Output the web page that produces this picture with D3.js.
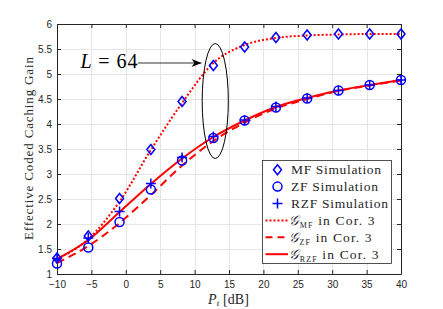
<!DOCTYPE html>
<html>
<head>
<meta charset="utf-8">
<script src="https://cdn.jsdelivr.net/npm/d3@7"></script>
<style>
  body { margin: 0; background: #fff; }
  svg { display: block; }
  .tick text { font-family: "Liberation Sans", Arial, sans-serif; font-size: 10px; fill: #262626; }
  .serif { font-family: "Liberation Serif", "DejaVu Serif", serif; fill: #262626; }
</style>
</head>
<body>
<div id="chart"></div>
<script>
// transmit power points (dB)
var pt = [-10, -5.45, -0.91, 3.64, 8.18, 12.73, 17.27, 21.82, 26.36, 30.91, 35.45, 40];

// simulation markers
var mfSim  = [1.32, 1.76, 2.51, 3.49, 4.45, 5.17, 5.54, 5.73, 5.78, 5.80, 5.80, 5.80];
var zfSim  = [1.21, 1.53, 2.04, 2.69, 3.27, 3.72, 4.07, 4.33, 4.51, 4.67, 4.78, 4.88];
var rzfSim = [1.31, 1.72, 2.25, 2.81, 3.33, 3.75, 4.08, 4.35, 4.52, 4.67, 4.78, 4.88];

// analytical curves (Cor. 3)
var mfCor  = [1.30, 1.70, 2.45, 3.48, 4.42, 5.22, 5.58, 5.72, 5.77, 5.79, 5.80, 5.80];
var zfCor  = [1.22, 1.56, 2.02, 2.58, 3.17, 3.66, 4.03, 4.31, 4.50, 4.66, 4.77, 4.87];
var rzfCor = [1.30, 1.68, 2.24, 2.80, 3.31, 3.74, 4.07, 4.34, 4.52, 4.67, 4.78, 4.88];

var xTicks = [-10, -5, 0, 5, 10, 15, 20, 25, 30, 35, 40];
var yTicks = [1, 1.5, 2, 2.5, 3, 3.5, 4, 4.5, 5, 5.5, 6];

var legendItems = [
  {kind: "diamond", sub: null,  label: "MF Simulation",  len: 90},
  {kind: "circle",  sub: null,  label: "ZF Simulation",  len: 87},
  {kind: "plus",    sub: null,  label: "RZF Simulation", len: 97},
  {kind: "dotted",  sub: "MF",  label: " in Cor. 3",     len: 86},
  {kind: "dashed",  sub: "ZF",  label: " in Cor. 3",     len: 83},
  {kind: "solid",   sub: "RZF", label: " in Cor. 3",     len: 90}
];

//Dimensions
var W = 443, H = 309;
var margin = {top: 24, right: 42, bottom: 35, left: 57};
var width = W - margin.left - margin.right,
    height = H - margin.top - margin.bottom;

var svg = d3.select("#chart").append("svg")
    .attr("width", W)
    .attr("height", H);

var g = svg.append("g")
    .attr("transform", "translate(" + margin.left + "," + margin.top + ")");

var x = d3.scaleLinear().domain([-10, 40]).range([0, width]);
var y = d3.scaleLinear().domain([1, 6]).range([height, 0]);

var blue = "#0000ff", red = "#ff0000";

//Grid
g.append("g").selectAll("line").data(xTicks.slice(1, -1)).enter().append("line")
    .attr("x1", function(d) { return Math.round(x(d)) + 0.5; })
    .attr("x2", function(d) { return Math.round(x(d)) + 0.5; })
    .attr("y1", 0).attr("y2", height)
    .attr("stroke", "#e6e6e6");
g.append("g").selectAll("line").data(yTicks.slice(1, -1)).enter().append("line")
    .attr("y1", function(d) { return Math.round(y(d)) + 0.5; })
    .attr("y2", function(d) { return Math.round(y(d)) + 0.5; })
    .attr("x1", 0).attr("x2", width)
    .attr("stroke", "#e6e6e6");

//Axes (ticks pointing inward, box on)
g.append("g").attr("transform", "translate(0," + height + ")")
    .call(d3.axisBottom(x).tickValues(xTicks).tickSizeInner(-4).tickSizeOuter(0).tickPadding(7));
g.append("g")
    .call(d3.axisLeft(y).tickValues(yTicks).tickFormat(d3.format("")).tickSizeInner(-4).tickSizeOuter(0).tickPadding(5));
g.append("g")
    .call(d3.axisTop(x).tickValues(xTicks).tickSizeInner(-4).tickSizeOuter(0).tickFormat(""));
g.append("g").attr("transform", "translate(" + width + ",0)")
    .call(d3.axisRight(y).tickValues(yTicks).tickSizeInner(-4).tickSizeOuter(0).tickFormat(""));
g.selectAll(".domain, .tick line").attr("stroke", "#262626");

//Curves
function drawCurve(vals, dash) {
  var line = d3.line()
      .x(function(d, i) { return x(pt[i]); })
      .y(function(d) { return y(d); })
      .curve(d3.curveMonotoneX);
  g.append("path").datum(vals)
      .attr("fill", "none")
      .attr("stroke", red)
      .attr("stroke-width", 2)
      .attr("stroke-dasharray", dash)
      .attr("d", line);
}
drawCurve(mfCor, "2,2");
drawCurve(zfCor, "8,5");
drawCurve(rzfCor, null);

//Markers
function marker(sel, kind, cx, cy) {
  if (kind === "diamond") {
    sel.append("path")
      .attr("d", "M" + cx + "," + (cy - 5) + "L" + (cx + 4) + "," + cy + "L" + cx + "," + (cy + 5) + "L" + (cx - 4) + "," + cy + "Z")
      .attr("fill", "none").attr("stroke", blue).attr("stroke-width", 1.5);
  } else if (kind === "circle") {
    sel.append("circle").attr("cx", cx).attr("cy", cy).attr("r", 4.5)
      .attr("fill", "none").attr("stroke", blue).attr("stroke-width", 1.5);
  } else if (kind === "plus") {
    sel.append("path")
      .attr("d", "M" + (cx - 5) + "," + cy + "H" + (cx + 5) + "M" + cx + "," + (cy - 5) + "V" + (cy + 5))
      .attr("fill", "none").attr("stroke", blue).attr("stroke-width", 1.5);
  }
}
pt.forEach(function(p, i) {
  marker(g, "diamond", x(p), y(mfSim[i]));
  marker(g, "circle", x(p), y(zfSim[i]));
  marker(g, "plus", x(p), y(rzfSim[i]));
});

//Annotation: ellipse + arrow + L = 64
g.append("ellipse")
    .attr("cx", x(13)).attr("cy", y(4.46))
    .attr("rx", x(14.9) - x(13)).attr("ry", y(4.46) - y(5.61))
    .attr("fill", "none").attr("stroke", "#000").attr("stroke-width", 1);

svg.append("defs").append("marker")
    .attr("id", "arrowhead")
    .attr("viewBox", "0 0 10 8")
    .attr("refX", 10).attr("refY", 4)
    .attr("markerWidth", 10).attr("markerHeight", 8)
    .attr("markerUnits", "userSpaceOnUse")
    .attr("orient", "auto")
  .append("path")
    .attr("d", "M0,0L10,4L0,8L3,4Z")
    .attr("fill", "#000");

g.append("line")
    .attr("x1", x(1.75)).attr("y1", y(5.22))
    .attr("x2", x(11.0)).attr("y2", y(5.22))
    .attr("stroke", "#000").attr("stroke-width", 0.8)
    .attr("marker-end", "url(#arrowhead)");

var lt = g.append("text").attr("class", "serif")
    .attr("x", x(-6.6)).attr("y", y(5.13))
    .attr("textLength", 57)
    .style("font-size", "20px").style("fill", "#000");
lt.append("tspan").style("font-style", "italic").text("L");
lt.append("tspan").text(" = 64");

//Axis labels
var xl = svg.append("text").attr("class", "serif")
    .attr("x", 208).attr("y", 303.5)
    .attr("textLength", 41)
    .style("font-size", "14px");
xl.append("tspan").style("font-style", "italic").text("P");
xl.append("tspan").style("font-style", "italic").style("font-size", "9px").attr("dy", 2.5).text("t");
xl.append("tspan").attr("dy", -2.5).text(" [dB]");

svg.append("text").attr("class", "serif")
    .attr("transform", "translate(33," + 148.5 + ") rotate(-90)")
    .attr("text-anchor", "middle")
    .attr("textLength", 183)
    .style("font-size", "13px")
    .text("Effective Coded Caching Gain");

//Legend
var lg = svg.append("g");
lg.append("rect")
    .attr("x", 262.5).attr("y", 160.5)
    .attr("width", 129).attr("height", 103)
    .attr("fill", "#fff").attr("stroke", "#262626").attr("stroke-width", 0.8);

legendItems.forEach(function(it, i) {
  var cy = 169.7 + i * 16.9;
  if (it.kind === "dotted" || it.kind === "dashed" || it.kind === "solid") {
    lg.append("line")
      .attr("x1", 265.5).attr("x2", 288).attr("y1", cy).attr("y2", cy)
      .attr("stroke", red).attr("stroke-width", 2)
      .attr("stroke-dasharray", it.kind === "dotted" ? "2,2" : it.kind === "dashed" ? "7,5" : null);
  } else {
    marker(lg, it.kind, 277.5, cy);
  }
  var t = lg.append("text").attr("class", "serif")
      .attr("x", it.sub ? 288.5 : 291).attr("y", cy + 4.5)
      .attr("textLength", it.len)
      .style("font-size", "13.5px");
  if (it.sub) {
    t.append("tspan").style("font-style", "italic").text("\ud835\udca2");
    t.append("tspan").style("font-size", "8px").attr("dy", 3).text(it.sub);
    t.append("tspan").attr("dy", -3).text(it.label);
  } else {
    t.text(it.label);
  }
});
</script>
</body>
</html>
